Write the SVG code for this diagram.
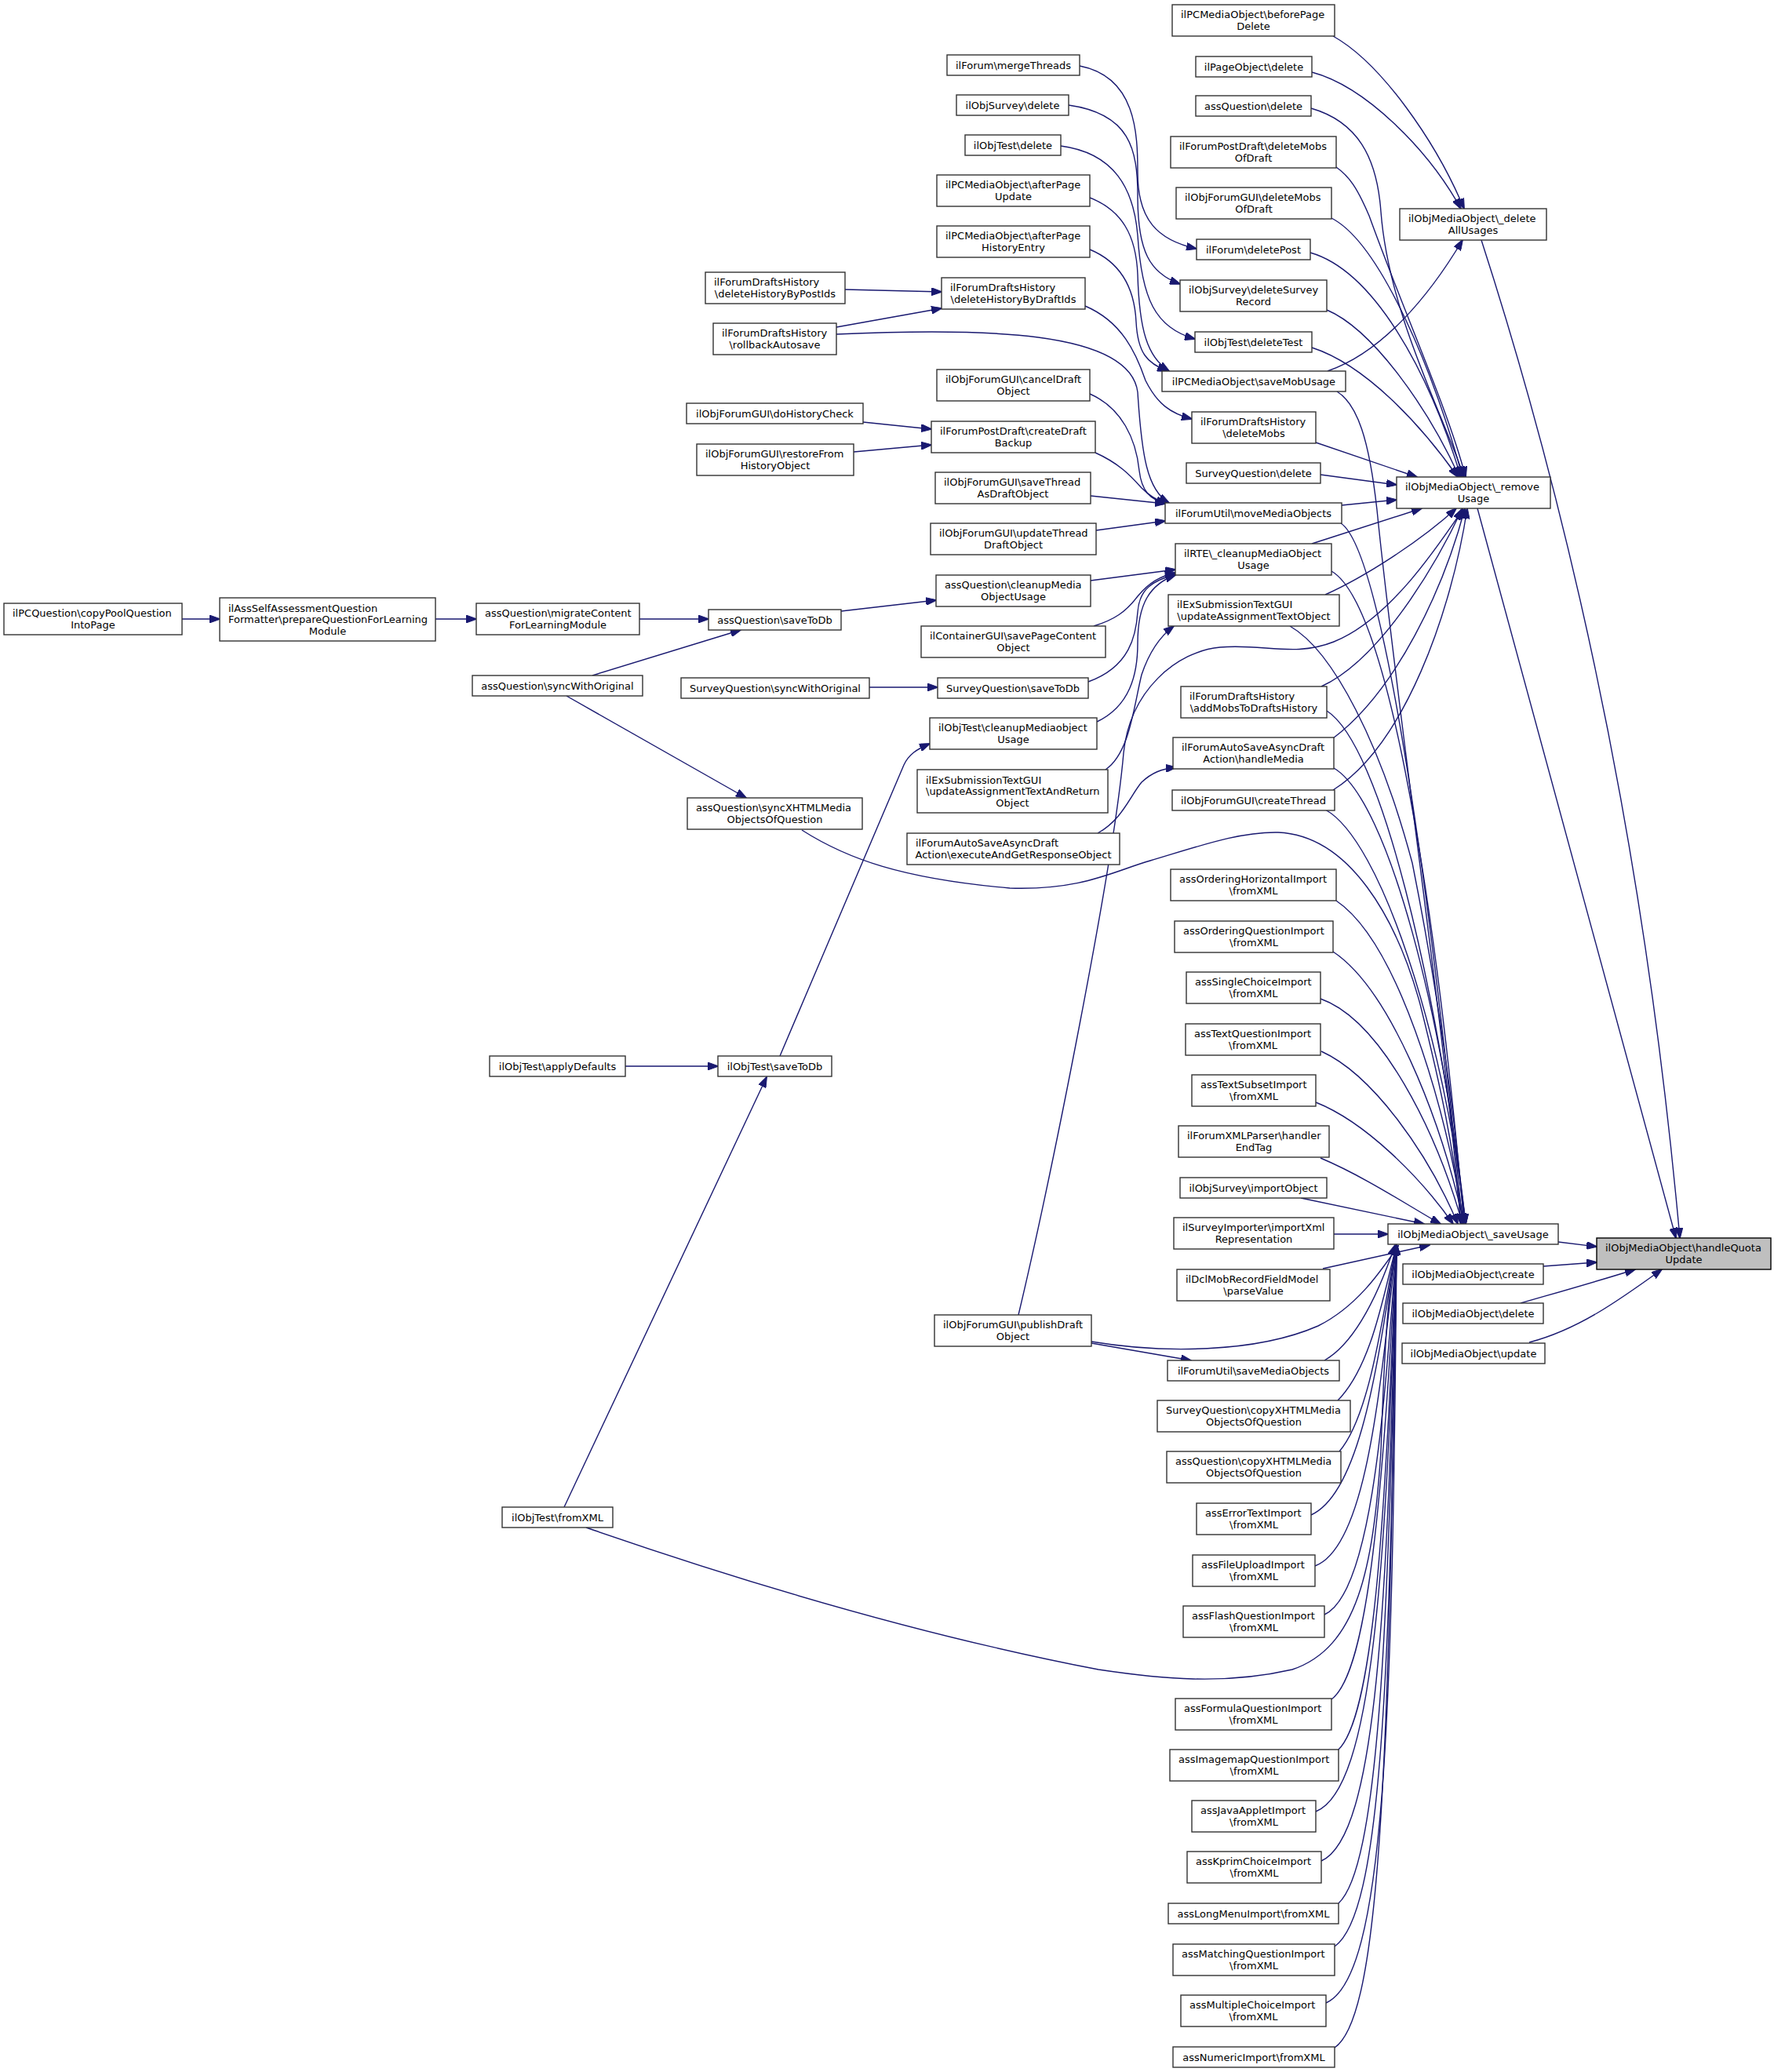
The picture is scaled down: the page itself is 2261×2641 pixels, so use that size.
<svg xmlns="http://www.w3.org/2000/svg" width="2261" height="2641" viewBox="0 0 2261 2641">
<defs>
<marker id="ah" markerUnits="userSpaceOnUse" markerWidth="14" markerHeight="10" viewBox="0 0 14 10" refX="13" refY="5" orient="auto"><path d="M0,0 L14,5 L0,10 z" fill="#191970" stroke="#191970" stroke-width="1"/></marker>
</defs>
<style>
.node rect{fill:#ffffff;stroke:#333333;stroke-width:1.4}
.node rect.root{fill:#bfbfbf;stroke:#000000}
.node text{font-family:"DejaVu Sans",sans-serif;font-size:13px;fill:#000000}
.node text.c{text-anchor:middle}
#edges path{fill:none;stroke:#191970;stroke-width:1.4;marker-end:url(#ah)}
</style>
<rect x="0" y="0" width="2261" height="2641" fill="#ffffff"/>
<g id="edges">
<path d="M232,789 L280,789"/>
<path d="M555,789 L607,789"/>
<path d="M815,789 L903,789"/>
<path d="M755,861 L944,803"/>
<path d="M722,887 L951,1017"/>
<path d="M1072,779 L1193,765"/>
<path d="M1108,876 L1195,876"/>
<path d="M797,1359 L915,1359"/>
<path d="M719,1921 L977,1373"/>
<path d="M994,1346 L1152,975 C1158,962 1168,955 1185,948"/>
<path d="M1077,369 L1200,372"/>
<path d="M1066,417 L1200,393"/>
<path d="M1100,538 L1187,547"/>
<path d="M1088,576 L1187,567"/>
<path d="M1376,84 C1448,98 1450,170 1450,220 C1450,280 1475,306 1525,317"/>
<path d="M1362,134 C1440,145 1450,190 1450,250 C1450,320 1465,348 1504,362"/>
<path d="M1352,186 C1420,195 1445,240 1450,300 C1455,380 1472,418 1523,432"/>
<path d="M1389,252 C1430,268 1448,300 1450,350 C1452,420 1462,455 1490,473"/>
<path d="M1389,318 C1430,335 1446,370 1448,410 C1450,450 1462,463 1488,473"/>
<path d="M1383,390 C1430,410 1448,450 1460,485 C1475,515 1492,527 1519,534"/>
<path d="M1066,426 C1250,418 1440,420 1450,500 C1455,580 1462,625 1490,641"/>
<path d="M1389,502 C1430,520 1448,560 1452,600 C1455,625 1465,637 1487,642"/>
<path d="M1396,577 C1425,590 1440,605 1455,622 C1465,632 1475,638 1487,642"/>
<path d="M1390,632 L1485,642"/>
<path d="M1397,676 L1485,664"/>
<path d="M1390,740 L1498,726"/>
<path d="M1394,798 C1420,790 1435,780 1450,760 C1465,742 1478,735 1498,730"/>
<path d="M1387,869 C1440,850 1448,810 1450,780 C1452,750 1470,740 1498,732"/>
<path d="M1398,920 C1440,900 1450,860 1450,820 C1450,770 1465,745 1498,733"/>
<path d="M1409,981 C1440,960 1445,900 1455,860 C1465,830 1480,810 1496,798"/>
<path d="M1399,1062 C1430,1045 1440,1015 1455,997 C1468,985 1480,980 1499,978"/>
<path d="M1391,1712 L1518,1734"/>
<path d="M1391,1710 C1480,1725 1600,1725 1680,1690 C1730,1665 1760,1620 1782,1588"/>
<path d="M1298,1676 C1340,1500 1420,1100 1432,960 C1440,880 1500,830 1555,825 C1610,820 1650,838 1700,818 C1770,790 1830,700 1864,650"/>
<path d="M1699,46 C1760,80 1830,180 1866,266"/>
<path d="M1672,92 C1740,110 1820,190 1862,266"/>
<path d="M1692,473 C1760,450 1820,380 1864,306"/>
<path d="M1671,138 C1730,155 1755,200 1760,270 C1770,400 1840,530 1866,608"/>
<path d="M1703,213 C1720,225 1730,240 1745,275 C1790,400 1845,520 1868,608"/>
<path d="M1697,278 C1760,310 1830,480 1864,608"/>
<path d="M1670,322 C1750,345 1820,470 1862,608"/>
<path d="M1691,395 C1750,420 1820,520 1860,608"/>
<path d="M1672,443 C1740,465 1810,540 1858,608"/>
<path d="M1677,564 L1806,608"/>
<path d="M1683,605 L1780,618"/>
<path d="M1710,644 L1780,637"/>
<path d="M1672,693 L1812,648"/>
<path d="M1689,758 C1740,735 1810,690 1856,648"/>
<path d="M1684,875 C1760,840 1830,720 1864,648"/>
<path d="M1699,941 C1780,880 1840,750 1867,648"/>
<path d="M1699,1007 C1790,950 1850,780 1870,648"/>
<path d="M1888,306 Q2080,900 2141,1578"/>
<path d="M1883,648 L2136,1578"/>
<path d="M1986,1583 L2035,1589"/>
<path d="M1967,1614 L2035,1609"/>
<path d="M1938,1661 C1990,1646 2040,1632 2084,1618"/>
<path d="M1949,1711 C2010,1695 2060,1660 2118,1618"/>
<path d="M1704,499 C1730,515 1745,560 1755,650 C1780,900 1840,1300 1862,1560"/>
<path d="M1709,667 C1760,700 1820,1100 1864,1560"/>
<path d="M1697,728 C1770,770 1830,1150 1866,1560"/>
<path d="M1644,798 C1700,830 1760,950 1800,1100 C1830,1250 1855,1420 1866,1560"/>
<path d="M1691,906 C1760,950 1830,1250 1868,1560"/>
<path d="M1700,979 C1770,1020 1840,1300 1868,1560"/>
<path d="M1689,1032 C1760,1070 1840,1320 1868,1560"/>
<path d="M1022,1058 C1080,1095 1150,1120 1287,1132 C1380,1135 1420,1110 1466,1097 C1530,1078 1580,1060 1629,1061 C1720,1065 1780,1170 1810,1280 C1835,1380 1855,1470 1862,1560"/>
<path d="M1703,1148 C1780,1200 1840,1400 1866,1560"/>
<path d="M1699,1213 C1770,1260 1835,1420 1866,1560"/>
<path d="M1683,1273 C1760,1300 1830,1440 1864,1560"/>
<path d="M1684,1340 C1750,1370 1820,1470 1858,1560"/>
<path d="M1677,1405 C1740,1430 1810,1500 1852,1560"/>
<path d="M1683,1476 C1740,1500 1800,1540 1836,1560"/>
<path d="M1658,1527 L1815,1560"/>
<path d="M1700,1573 L1769,1573"/>
<path d="M1686,1617 L1822,1587"/>
<path d="M1688,1734 C1730,1710 1760,1640 1778,1587"/>
<path d="M1705,1785 C1750,1740 1765,1640 1780,1587"/>
<path d="M1707,1850 C1750,1800 1765,1650 1780,1587"/>
<path d="M1671,1931 C1740,1900 1760,1700 1780,1587"/>
<path d="M1676,1996 C1745,1970 1760,1750 1780,1587"/>
<path d="M1688,2058 C1750,2030 1765,1780 1780,1587"/>
<path d="M747,1947 C900,2000 1150,2080 1400,2128 C1480,2140 1560,2148 1647,2128 C1730,2100 1750,2000 1760,1850 C1765,1700 1770,1640 1780,1587"/>
<path d="M1697,2166 C1745,2130 1762,1900 1780,1587"/>
<path d="M1705,2231 C1750,2190 1765,1950 1780,1587"/>
<path d="M1677,2309 C1750,2280 1766,2000 1780,1587"/>
<path d="M1684,2372 C1755,2340 1768,2050 1780,1587"/>
<path d="M1706,2426 C1755,2380 1770,2100 1780,1587"/>
<path d="M1701,2481 C1760,2440 1772,2150 1780,1587"/>
<path d="M1690,2553 C1765,2520 1775,2200 1780,1587"/>
<path d="M1701,2610 C1760,2570 1770,2250 1780,1587"/>
</g>
<g id="n_root" class="node"><rect class="root" x="2035" y="1578" width="222" height="40"/><text x="2046" y="1595.25">ilObjMediaObject\handleQuota</text><text class="c" x="2146" y="1609.75">Update</text></g>
<g id="n_delAll" class="node"><rect x="1784" y="266" width="187" height="40"/><text x="1795" y="283.25">ilObjMediaObject\_delete</text><text class="c" x="1877.5" y="297.75">AllUsages</text></g>
<g id="n_remove" class="node"><rect x="1780" y="608" width="196" height="40"/><text x="1791" y="625.25">ilObjMediaObject\_remove</text><text class="c" x="1878" y="639.75">Usage</text></g>
<g id="n_save" class="node"><rect x="1769" y="1560" width="217" height="26"/><text class="c" x="1877.5" y="1577.5">ilObjMediaObject\_saveUsage</text></g>
<g id="n_create" class="node"><rect x="1788" y="1611" width="179" height="26"/><text class="c" x="1877.5" y="1628.5">ilObjMediaObject\create</text></g>
<g id="n_delete" class="node"><rect x="1788" y="1661" width="179" height="26"/><text class="c" x="1877.5" y="1678.5">ilObjMediaObject\delete</text></g>
<g id="n_update" class="node"><rect x="1787" y="1712" width="182" height="26"/><text class="c" x="1878" y="1729.5">ilObjMediaObject\update</text></g>
<g id="n_bpd" class="node"><rect x="1494" y="6" width="207" height="40"/><text x="1505" y="23.25">ilPCMediaObject\beforePage</text><text class="c" x="1597.5" y="37.75">Delete</text></g>
<g id="n_pod" class="node"><rect x="1524" y="72" width="148" height="26"/><text class="c" x="1598" y="89.5">ilPageObject\delete</text></g>
<g id="n_aqd" class="node"><rect x="1524" y="122" width="147" height="26"/><text class="c" x="1597.5" y="139.5">assQuestion\delete</text></g>
<g id="n_fpddm" class="node"><rect x="1492" y="174" width="211" height="40"/><text x="1503" y="191.25">ilForumPostDraft\deleteMobs</text><text class="c" x="1597.5" y="205.75">OfDraft</text></g>
<g id="n_ofgdm" class="node"><rect x="1499" y="239" width="198" height="40"/><text x="1510" y="256.25">ilObjForumGUI\deleteMobs</text><text class="c" x="1598" y="270.75">OfDraft</text></g>
<g id="n_fdp" class="node"><rect x="1525" y="305" width="145" height="26"/><text class="c" x="1597.5" y="322.5">ilForum\deletePost</text></g>
<g id="n_osdsr" class="node"><rect x="1504" y="357" width="187" height="40"/><text x="1515" y="374.25">ilObjSurvey\deleteSurvey</text><text class="c" x="1597.5" y="388.75">Record</text></g>
<g id="n_otdt" class="node"><rect x="1523" y="423" width="149" height="26"/><text class="c" x="1597.5" y="440.5">ilObjTest\deleteTest</text></g>
<g id="n_smu" class="node"><rect x="1481" y="473" width="234" height="26"/><text class="c" x="1598" y="490.5">ilPCMediaObject\saveMobUsage</text></g>
<g id="n_fdhdm" class="node"><rect x="1519" y="525" width="158" height="40"/><text x="1530" y="542.25">ilForumDraftsHistory</text><text class="c" x="1598" y="556.75">\deleteMobs</text></g>
<g id="n_sqd" class="node"><rect x="1512" y="590" width="171" height="26"/><text class="c" x="1597.5" y="607.5">SurveyQuestion\delete</text></g>
<g id="n_fumm" class="node"><rect x="1485" y="641" width="225" height="26"/><text class="c" x="1597.5" y="658.5">ilForumUtil\moveMediaObjects</text></g>
<g id="n_rte" class="node"><rect x="1498" y="693" width="199" height="40"/><text x="1509" y="710.25">ilRTE\_cleanupMediaObject</text><text class="c" x="1597.5" y="724.75">Usage</text></g>
<g id="n_exuat" class="node"><rect x="1489" y="758" width="218" height="40"/><text x="1500" y="775.25">ilExSubmissionTextGUI</text><text class="c" x="1598" y="789.75">\updateAssignmentTextObject</text></g>
<g id="n_fdhadd" class="node"><rect x="1505" y="875" width="186" height="40"/><text x="1516" y="892.25">ilForumDraftsHistory</text><text class="c" x="1598" y="906.75">\addMobsToDraftsHistory</text></g>
<g id="n_hm" class="node"><rect x="1495" y="940" width="205" height="40"/><text x="1506" y="957.25">ilForumAutoSaveAsyncDraft</text><text class="c" x="1597.5" y="971.75">Action\handleMedia</text></g>
<g id="n_ct" class="node"><rect x="1494" y="1007" width="207" height="26"/><text class="c" x="1597.5" y="1024.5">ilObjForumGUI\createThread</text></g>
<g id="n_aohi" class="node"><rect x="1492" y="1108" width="211" height="40"/><text x="1503" y="1125.25">assOrderingHorizontalImport</text><text class="c" x="1597.5" y="1139.75">\fromXML</text></g>
<g id="n_aoqi" class="node"><rect x="1497" y="1174" width="202" height="40"/><text x="1508" y="1191.25">assOrderingQuestionImport</text><text class="c" x="1598" y="1205.75">\fromXML</text></g>
<g id="n_asci" class="node"><rect x="1512" y="1239" width="171" height="40"/><text x="1523" y="1256.25">assSingleChoiceImport</text><text class="c" x="1597.5" y="1270.75">\fromXML</text></g>
<g id="n_atqi" class="node"><rect x="1511" y="1305" width="172" height="40"/><text x="1522" y="1322.25">assTextQuestionImport</text><text class="c" x="1597" y="1336.75">\fromXML</text></g>
<g id="n_atsi" class="node"><rect x="1519" y="1370" width="158" height="40"/><text x="1530" y="1387.25">assTextSubsetImport</text><text class="c" x="1598" y="1401.75">\fromXML</text></g>
<g id="n_fxp" class="node"><rect x="1502" y="1435" width="192" height="40"/><text x="1513" y="1452.25">ilForumXMLParser\handler</text><text class="c" x="1598" y="1466.75">EndTag</text></g>
<g id="n_osio" class="node"><rect x="1504" y="1501" width="187" height="26"/><text class="c" x="1597.5" y="1518.5">ilObjSurvey\importObject</text></g>
<g id="n_sixr" class="node"><rect x="1496" y="1552" width="204" height="40"/><text x="1507" y="1569.25">ilSurveyImporter\importXml</text><text class="c" x="1598" y="1583.75">Representation</text></g>
<g id="n_dcl" class="node"><rect x="1500" y="1618" width="195" height="40"/><text x="1511" y="1635.25">ilDclMobRecordFieldModel</text><text class="c" x="1597.5" y="1649.75">\parseValue</text></g>
<g id="n_fusm" class="node"><rect x="1488" y="1734" width="219" height="26"/><text class="c" x="1597.5" y="1751.5">ilForumUtil\saveMediaObjects</text></g>
<g id="n_sqcx" class="node"><rect x="1475" y="1785" width="246" height="40"/><text x="1486" y="1802.25">SurveyQuestion\copyXHTMLMedia</text><text class="c" x="1598" y="1816.75">ObjectsOfQuestion</text></g>
<g id="n_aqcx" class="node"><rect x="1487" y="1850" width="222" height="40"/><text x="1498" y="1867.25">assQuestion\copyXHTMLMedia</text><text class="c" x="1598" y="1881.75">ObjectsOfQuestion</text></g>
<g id="n_aeti" class="node"><rect x="1525" y="1916" width="146" height="40"/><text x="1536" y="1933.25">assErrorTextImport</text><text class="c" x="1598" y="1947.75">\fromXML</text></g>
<g id="n_afui" class="node"><rect x="1520" y="1982" width="156" height="40"/><text x="1531" y="1999.25">assFileUploadImport</text><text class="c" x="1598" y="2013.75">\fromXML</text></g>
<g id="n_afqi" class="node"><rect x="1508" y="2047" width="180" height="40"/><text x="1519" y="2064.25">assFlashQuestionImport</text><text class="c" x="1598" y="2078.75">\fromXML</text></g>
<g id="n_afoqi" class="node"><rect x="1498" y="2165" width="199" height="40"/><text x="1509" y="2182.25">assFormulaQuestionImport</text><text class="c" x="1597.5" y="2196.75">\fromXML</text></g>
<g id="n_aiqi" class="node"><rect x="1491" y="2230" width="215" height="40"/><text x="1502" y="2247.25">assImagemapQuestionImport</text><text class="c" x="1598.5" y="2261.75">\fromXML</text></g>
<g id="n_ajai" class="node"><rect x="1519" y="2295" width="158" height="40"/><text x="1530" y="2312.25">assJavaAppletImport</text><text class="c" x="1598" y="2326.75">\fromXML</text></g>
<g id="n_akci" class="node"><rect x="1513" y="2360" width="171" height="40"/><text x="1524" y="2377.25">assKprimChoiceImport</text><text class="c" x="1598.5" y="2391.75">\fromXML</text></g>
<g id="n_almi" class="node"><rect x="1489" y="2426" width="217" height="26"/><text class="c" x="1597.5" y="2443.5">assLongMenuImport\fromXML</text></g>
<g id="n_amqi" class="node"><rect x="1495" y="2478" width="206" height="40"/><text x="1506" y="2495.25">assMatchingQuestionImport</text><text class="c" x="1598" y="2509.75">\fromXML</text></g>
<g id="n_amci" class="node"><rect x="1505" y="2543" width="185" height="40"/><text x="1516" y="2560.25">assMultipleChoiceImport</text><text class="c" x="1597.5" y="2574.75">\fromXML</text></g>
<g id="n_ani" class="node"><rect x="1495" y="2609" width="206" height="26"/><text class="c" x="1598" y="2626.5">assNumericImport\fromXML</text></g>
<g id="n_fmt" class="node"><rect x="1207" y="70" width="169" height="26"/><text class="c" x="1291.5" y="87.5">ilForum\mergeThreads</text></g>
<g id="n_osd" class="node"><rect x="1219" y="121" width="143" height="26"/><text class="c" x="1290.5" y="138.5">ilObjSurvey\delete</text></g>
<g id="n_otd" class="node"><rect x="1230" y="172" width="122" height="26"/><text class="c" x="1291" y="189.5">ilObjTest\delete</text></g>
<g id="n_apu" class="node"><rect x="1194" y="223" width="195" height="40"/><text x="1205" y="240.25">ilPCMediaObject\afterPage</text><text class="c" x="1291.5" y="254.75">Update</text></g>
<g id="n_aphe" class="node"><rect x="1194" y="288" width="195" height="40"/><text x="1205" y="305.25">ilPCMediaObject\afterPage</text><text class="c" x="1291.5" y="319.75">HistoryEntry</text></g>
<g id="n_dhbd" class="node"><rect x="1200" y="354" width="183" height="40"/><text x="1211" y="371.25">ilForumDraftsHistory</text><text class="c" x="1291.5" y="385.75">\deleteHistoryByDraftIds</text></g>
<g id="n_cdo" class="node"><rect x="1194" y="471" width="195" height="40"/><text x="1205" y="488.25">ilObjForumGUI\cancelDraft</text><text class="c" x="1291.5" y="502.75">Object</text></g>
<g id="n_cdb" class="node"><rect x="1187" y="537" width="209" height="40"/><text x="1198" y="554.25">ilForumPostDraft\createDraft</text><text class="c" x="1291.5" y="568.75">Backup</text></g>
<g id="n_stado" class="node"><rect x="1192" y="602" width="198" height="40"/><text x="1203" y="619.25">ilObjForumGUI\saveThread</text><text class="c" x="1291" y="633.75">AsDraftObject</text></g>
<g id="n_utdo" class="node"><rect x="1186" y="667" width="211" height="40"/><text x="1197" y="684.25">ilObjForumGUI\updateThread</text><text class="c" x="1291.5" y="698.75">DraftObject</text></g>
<g id="n_aqcmou" class="node"><rect x="1193" y="733" width="197" height="40"/><text x="1204" y="750.25">assQuestion\cleanupMedia</text><text class="c" x="1291.5" y="764.75">ObjectUsage</text></g>
<g id="n_cgspco" class="node"><rect x="1174" y="798" width="235" height="40"/><text x="1185" y="815.25">ilContainerGUI\savePageContent</text><text class="c" x="1291.5" y="829.75">Object</text></g>
<g id="n_sqstd" class="node"><rect x="1195" y="864" width="192" height="26"/><text class="c" x="1291" y="881.5">SurveyQuestion\saveToDb</text></g>
<g id="n_otcmu" class="node"><rect x="1185" y="915" width="213" height="40"/><text x="1196" y="932.25">ilObjTest\cleanupMediaobject</text><text class="c" x="1291.5" y="946.75">Usage</text></g>
<g id="n_exuatr" class="node"><rect x="1169" y="981" width="243" height="55"/><text x="1180" y="998.5">ilExSubmissionTextGUI</text><text x="1180" y="1013">\updateAssignmentTextAndReturn</text><text class="c" x="1290.5" y="1027.5">Object</text></g>
<g id="n_eagro" class="node"><rect x="1156" y="1062" width="271" height="40"/><text x="1167" y="1079.25">ilForumAutoSaveAsyncDraft</text><text class="c" x="1291.5" y="1093.75">Action\executeAndGetResponseObject</text></g>
<g id="n_pdo" class="node"><rect x="1191" y="1676" width="200" height="40"/><text x="1202" y="1693.25">ilObjForumGUI\publishDraft</text><text class="c" x="1291" y="1707.75">Object</text></g>
<g id="n_dhbp" class="node"><rect x="899" y="347" width="178" height="40"/><text x="910" y="364.25">ilForumDraftsHistory</text><text class="c" x="988" y="378.75">\deleteHistoryByPostIds</text></g>
<g id="n_ra" class="node"><rect x="909" y="412" width="157" height="40"/><text x="920" y="429.25">ilForumDraftsHistory</text><text class="c" x="987.5" y="443.75">\rollbackAutosave</text></g>
<g id="n_dhc" class="node"><rect x="875" y="514" width="225" height="26"/><text class="c" x="987.5" y="531.5">ilObjForumGUI\doHistoryCheck</text></g>
<g id="n_rfho" class="node"><rect x="888" y="566" width="200" height="40"/><text x="899" y="583.25">ilObjForumGUI\restoreFrom</text><text class="c" x="988" y="597.75">HistoryObject</text></g>
<g id="n_aqstd" class="node"><rect x="903" y="777" width="169" height="26"/><text class="c" x="987.5" y="794.5">assQuestion\saveToDb</text></g>
<g id="n_sqswo" class="node"><rect x="868" y="864" width="240" height="26"/><text class="c" x="988" y="881.5">SurveyQuestion\syncWithOriginal</text></g>
<g id="n_aqsx" class="node"><rect x="876" y="1017" width="223" height="40"/><text x="887" y="1034.25">assQuestion\syncXHTMLMedia</text><text class="c" x="987.5" y="1048.75">ObjectsOfQuestion</text></g>
<g id="n_otstd" class="node"><rect x="915" y="1346" width="145" height="26"/><text class="c" x="987.5" y="1363.5">ilObjTest\saveToDb</text></g>
<g id="n_aqmc" class="node"><rect x="607" y="769" width="208" height="40"/><text x="618" y="786.25">assQuestion\migrateContent</text><text class="c" x="711" y="800.75">ForLearningModule</text></g>
<g id="n_aqswo" class="node"><rect x="602" y="861" width="217" height="26"/><text class="c" x="710.5" y="878.5">assQuestion\syncWithOriginal</text></g>
<g id="n_otad" class="node"><rect x="624" y="1346" width="173" height="26"/><text class="c" x="710.5" y="1363.5">ilObjTest\applyDefaults</text></g>
<g id="n_otfx" class="node"><rect x="640" y="1921" width="141" height="26"/><text class="c" x="710.5" y="1938.5">ilObjTest\fromXML</text></g>
<g id="n_asaf" class="node"><rect x="280" y="762" width="275" height="55"/><text x="291" y="779.5">ilAssSelfAssessmentQuestion</text><text x="291" y="794">Formatter\prepareQuestionForLearning</text><text class="c" x="417.5" y="808.5">Module</text></g>
<g id="n_pcq" class="node"><rect x="5" y="769" width="227" height="40"/><text x="16" y="786.25">ilPCQuestion\copyPoolQuestion</text><text class="c" x="118.5" y="800.75">IntoPage</text></g>
</svg>
